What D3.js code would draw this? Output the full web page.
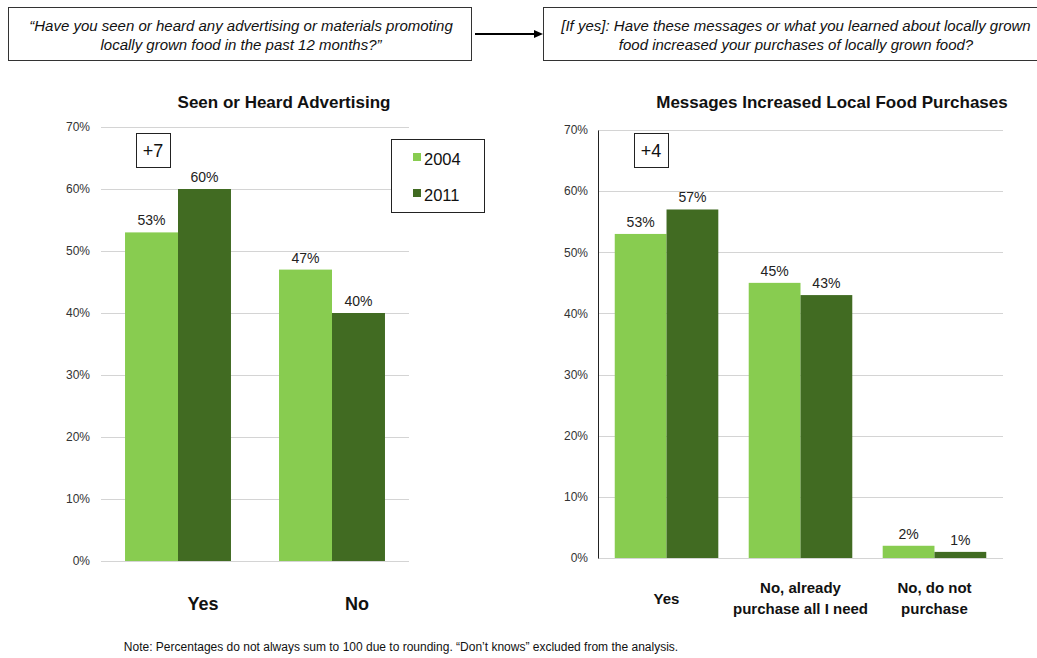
<!DOCTYPE html>
<html><head><meta charset="utf-8">
<script src="https://cdn.jsdelivr.net/npm/d3@7"></script>
<style>body{margin:0;background:#fff;font-family:Arial,"Liberation Sans",sans-serif}</style>
</head><body><svg id="c" width="1037" height="658"></svg>
<script>
const series = ["2004","2011"];
const colors = ["#88CC50","#416B22"];
const leftCats = ["Yes","No"];
const left2004 = [53,47];
const left2011 = [60,40];
const rightCats = [["Yes"],["No, already","purchase all I need"],["No, do not","purchase"]];
const right2004 = [53,45,2];
const right2011 = [57,43,1];
const yTicks = [0,10,20,30,40,50,60,70];

const svg = d3.select("#c");
const font = "Arial, 'Liberation Sans', sans-serif";

// question boxes
svg.append("rect").attr("x",8.5).attr("y",7.5).attr("width",463).attr("height",53).attr("fill","#fff").attr("stroke","#333");
svg.append("rect").attr("x",543.5).attr("y",7.5).attr("width",500).attr("height",53).attr("fill","#fff").attr("stroke","#333");
const q1 = ["\u201CHave you seen or heard any advertising or materials promoting","locally grown food in the past 12 months?\u201D"];
const q2 = ["[If yes]: Have these messages or what you learned about locally grown","food increased your purchases of locally grown food?"];
q1.forEach((t,i)=>svg.append("text").attr("x",241).attr("y",31+i*19).attr("text-anchor","middle").attr("font-size",15).attr("font-style","italic").attr("font-family",font).attr("fill","#111").text(t));
q2.forEach((t,i)=>svg.append("text").attr("x",796).attr("y",31+i*19).attr("text-anchor","middle").attr("font-size",15).attr("font-style","italic").attr("font-family",font).attr("fill","#111").text(t));
// arrow
svg.append("line").attr("x1",475).attr("x2",536).attr("y1",34).attr("y2",34).attr("stroke","#000").attr("stroke-width",2.2);
svg.append("path").attr("d","M543,34 L534,30 L534,38 Z").attr("fill","#000");

function chart(cfg){
  const g = svg.append("g");
  const y = d3.scaleLinear().domain([0,70]).range([cfg.y0,cfg.y70]);
  const x0 = d3.scaleBand().domain(d3.range(cfg.cats.length)).range([cfg.xl,cfg.xr]).paddingInner(cfg.pi).paddingOuter(cfg.po);
  const x1 = d3.scaleBand().domain(series).range([0,x0.bandwidth()]);
  // grid
  g.selectAll("line.grid").data(yTicks).join("line")
    .attr("x1",cfg.xl).attr("x2",cfg.xr).attr("y1",d=>Math.round(y(d))+0.5).attr("y2",d=>Math.round(y(d))+0.5)
    .attr("stroke","#d4d4d4").attr("stroke-width",1);
  const ax = g.append("g").attr("transform",`translate(${cfg.xl},0)`).call(d3.axisLeft(y).tickValues(yTicks).tickFormat(d=>d+"%").tickSize(0).tickPadding(cfg.tp));
  ax.select(".domain").attr("stroke",cfg.axisLine?"#222":"none");
  ax.selectAll("text").attr("font-size",12).attr("font-family",font).attr("fill","#333");
  const data = [cfg.a,cfg.b];
  series.forEach((s,si)=>{
    g.selectAll("rect.s"+si).data(data[si]).join("rect")
      .attr("x",(d,i)=>x0(i)+x1(s)).attr("width",x1.bandwidth())
      .attr("y",d=>y(d)).attr("height",d=>y(0)-y(d)).attr("fill",colors[si]);
    g.selectAll("text.v"+si).data(data[si]).join("text")
      .attr("x",(d,i)=>x0(i)+x1(s)+x1.bandwidth()/2).attr("y",d=>y(d)-7)
      .attr("text-anchor","middle").attr("font-size",14).attr("font-family",font).attr("fill","#222").text(d=>d+"%");
  });
  // category labels
  cfg.cats.forEach((c,i)=>{
    const lines = Array.isArray(c)?c:[c];
    const cx = x0(i)+x0.bandwidth()/2 + cfg.lx;
    const startY = cfg.labelY - (lines.length-1)*cfg.lh/2;
    lines.forEach((t,j)=>g.append("text").attr("x",cx).attr("y",startY+j*cfg.lh).attr("text-anchor","middle")
      .attr("font-size",cfg.lfs).attr("font-weight","bold").attr("font-family",font).attr("fill","#111").text(t));
  });
  // title
  g.append("text").attr("x",cfg.tx).attr("y",108).attr("text-anchor","middle").attr("font-size",17).attr("font-weight","bold").attr("font-family",font).attr("fill","#111").text(cfg.title);
  // delta box
  g.append("rect").attr("x",cfg.bx+0.5).attr("y",133.5).attr("width",34).attr("height",34).attr("fill","#fff").attr("stroke","#222");
  g.append("text").attr("x",cfg.bx+17).attr("y",157).attr("text-anchor","middle").attr("font-size",18).attr("font-family",font).attr("fill","#111").text(cfg.delta);
}

chart({cats:leftCats,a:left2004,b:left2011,xl:101,xr:409,y0:561,y70:127,pi:0.312,po:0.156,tp:11,axisLine:false,
  labelY:610,lh:21,lfs:18,lx:25,title:"Seen or Heard Advertising",tx:284,bx:136,delta:"+7"});
chart({cats:rightCats,a:right2004,b:right2011,xl:598,xr:1003,y0:558,y70:130,pi:0.227,po:0.125,tp:10,axisLine:true,
  labelY:603.5,lh:21,lfs:15,lx:0,title:"Messages Increased Local Food Purchases",tx:832,bx:634,delta:"+4"});

// legend
svg.append("rect").attr("x",391.5).attr("y",139.5).attr("width",93).attr("height",73).attr("fill","#fff").attr("stroke","#222");
series.forEach((s,i)=>{
  svg.append("rect").attr("x",413).attr("y",153+i*36).attr("width",8).attr("height",8).attr("fill",colors[i]);
  svg.append("text").attr("x",424).attr("y",165+i*36).attr("font-size",16.5).attr("font-family",font).attr("fill","#111").text(s);
});

svg.append("text").attr("x",401).attr("y",651).attr("text-anchor","middle").attr("font-size",12).attr("font-family",font).attr("fill","#111")
  .text("Note: Percentages do not always sum to 100 due to rounding.  \u201CDon\u2019t knows\u201D excluded from the analysis.");
</script></body></html>
